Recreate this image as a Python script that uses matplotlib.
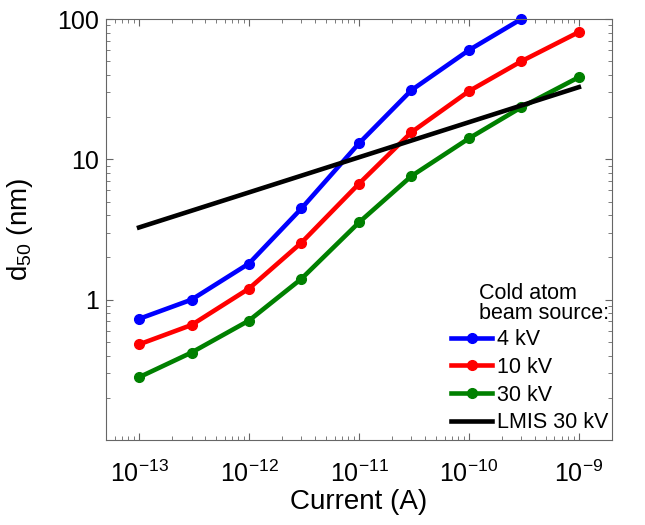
import numpy as np
import matplotlib
matplotlib.use('Agg')
import matplotlib.pyplot as plt
from matplotlib.ticker import LogLocator, LogFormatterMathtext, FixedLocator, NullFormatter

# ------------------------------------ Data ----------------------------------- #
current = [1e-13, 3e-13, 1e-12, 3e-12, 1e-11, 3e-11, 1e-10, 3e-10, 1e-9]
d50_4kv = [0.73, 1.0, 1.81, 4.47, 13.0, 31.1, 60.0, 100.0]
d50_10kv = [0.48, 0.66, 1.2, 2.55, 6.7, 15.6, 30.6, 50.0, 80.7]
d50_30kv = [0.28, 0.42, 0.71, 1.41, 3.55, 7.6, 14.1, 23.5, 38.5]
lmis_current = [1e-13, 1e-9]
lmis_d50 = [3.27, 32.7]

# ----------------------------------- Style ----------------------------------- #
plt.rcParams['font.family'] = ['Liberation Sans', 'DejaVu Sans']
plt.rcParams['mathtext.fontset'] = 'custom'
plt.rcParams['mathtext.rm'] = 'Liberation Sans'
plt.rcParams['mathtext.it'] = 'Liberation Sans:italic'
plt.rcParams['mathtext.bf'] = 'Liberation Sans:bold'

fig = plt.figure(figsize=(6.45, 5.25), dpi=100)
ax = fig.add_axes([0.1643, 0.1619, 0.7845, 0.8019])

kw = dict(lw=3.3, marker='o', ms=7, clip_on=False)
ax.plot(current[:len(d50_4kv)], d50_4kv, color=(0, 0, 1), label='4 kV', **kw)
ax.plot(current, d50_10kv, color=(1, 0, 0), label='10 kV', **kw)
ax.plot(current, d50_30kv, color=(0, 0.5, 0), label='30 kV', **kw)
ax.plot(lmis_current, lmis_d50, color='k', lw=3.3, label='LMIS 30 kV')

ax.set_xscale('log')
ax.set_yscale('log')
ax.set_xlim(5e-14, 2e-9)
ax.set_ylim(0.1, 100)

ax.xaxis.set_major_locator(FixedLocator([1e-13, 1e-12, 1e-11, 1e-10, 1e-9]))
ax.xaxis.set_major_formatter(LogFormatterMathtext())
ax.xaxis.set_minor_locator(LogLocator(base=10, subs=np.arange(2, 10), numticks=20))
ax.xaxis.set_minor_formatter(NullFormatter())
ax.yaxis.set_major_locator(FixedLocator([1, 10, 100]))
ax.set_yticklabels(['1', '10', '100'])
ax.yaxis.set_minor_locator(LogLocator(base=10, subs=np.arange(2, 10), numticks=20))
ax.yaxis.set_minor_formatter(NullFormatter())

ax.tick_params(which='both', direction='in', top=True, right=True, color='0.4')
ax.tick_params(which='major', length=5, width=0.8, labelsize=18)
ax.tick_params(which='minor', length=3, width=0.6)
ax.tick_params(axis='x', which='major', pad=15)
ax.tick_params(axis='y', which='major', pad=5)
for s in ax.spines.values():
    s.set_color('0.4')
    s.set_linewidth(0.8)

ax.set_xlabel('Current (A)', fontsize=20, labelpad=1)
ax.set_ylabel(r'd$_{50}$ (nm)', fontsize=20, labelpad=16)

# legend title drawn as text, indented like the original
ax.text(0.737, 0.373, 'Cold atom\nbeam source:', transform=ax.transAxes,
        fontsize=15.5, ha='left', va='top', linespacing=0.95)
leg = ax.legend(loc='upper left', bbox_to_anchor=(0.682, 0.263), frameon=False,
                fontsize=15.5, handlelength=1.9, handletextpad=0.25,
                labelspacing=0.31, borderpad=0, borderaxespad=0)

plt.savefig('out.png', dpi=100)
